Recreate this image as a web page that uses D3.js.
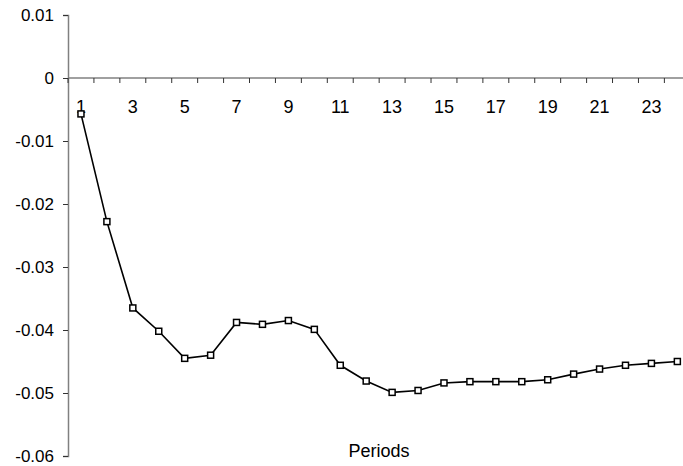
<!DOCTYPE html>
<html>
<head>
<meta charset="utf-8">
<script src="https://cdn.jsdelivr.net/npm/d3@7"></script>
<style>
    body { margin: 0; background: #fff; }
    svg { display: block; }
    text { font-family: "Liberation Sans", Arial, sans-serif; fill: #000; }
</style>
</head>
<body>
<svg id="chart" width="683" height="466"></svg>
<script>
// data
var periods = d3.range(1, 25);
var values = [
    -0.0057, -0.0228, -0.0365, -0.0402, -0.0445, -0.0440,
    -0.0388, -0.0391, -0.0385, -0.0399, -0.0456, -0.0481,
    -0.0499, -0.0496, -0.0484, -0.0482, -0.0482, -0.0482,
    -0.0479, -0.0470, -0.0462, -0.0456, -0.0453, -0.0450
];
var yTicks = [0.01, 0, -0.01, -0.02, -0.03, -0.04, -0.05, -0.06];
var yTickLabels = ["0.01", "0", "-0.01", "-0.02", "-0.03", "-0.04", "-0.05", "-0.06"];
var xLabelPeriods = [1, 3, 5, 7, 9, 11, 13, 15, 17, 19, 21, 23];
var xTitle = "Periods";

var svg = d3.select("#chart"),
    width = 683,
    left = 68,
    step = 25.93;

var x = d3.scaleBand()
    .domain(periods)
    .range([left, left + step * periods.length]);

var y = d3.scaleLinear()
    .domain([-0.06, 0.01])
    .range([456, 15]);

// y axis
var yAxis = svg.append("g")
    .attr("transform", "translate(" + left + ",0)")
    .call(d3.axisLeft(y)
        .tickValues(yTicks)
        .tickSize(5)
        .tickPadding(9)
        .tickFormat(function(d, i) { return yTickLabels[i]; }));
yAxis.select(".domain").attr("stroke", "#808080").attr("stroke-width", 1.5);
yAxis.selectAll(".tick line").attr("stroke", "#333");
yAxis.selectAll(".tick text")
    .attr("font-size", 17)
    .attr("font-family", "Liberation Sans, Arial, sans-serif");

// x axis along zero
var y0 = y(0);
var xAxis = svg.append("g");
xAxis.append("line")
    .attr("x1", left).attr("x2", width)
    .attr("y1", y0).attr("y2", y0)
    .attr("stroke", "#808080")
    .attr("stroke-width", 1.5);

xAxis.selectAll("line.tick")
    .data(periods.concat([periods.length + 1]))
    .enter().append("line")
    .attr("class", "tick")
    .attr("x1", function(d) { return d <= periods.length ? x(d) : x(periods.length) + x.bandwidth(); })
    .attr("x2", function(d) { return d <= periods.length ? x(d) : x(periods.length) + x.bandwidth(); })
    .attr("y1", y0)
    .attr("y2", y0 + 5)
    .attr("stroke", "#333");

xAxis.selectAll("text")
    .data(xLabelPeriods)
    .enter().append("text")
    .attr("x", function(d) { return x(d) + x.bandwidth() / 2; })
    .attr("y", y0 + 35)
    .attr("text-anchor", "middle")
    .attr("font-size", 18)
    .text(function(d) { return d; });

svg.append("text")
    .attr("x", 379)
    .attr("y", 457)
    .attr("text-anchor", "middle")
    .attr("font-size", 18)
    .text(xTitle);

// series
var line = d3.line()
    .x(function(d, i) { return x(periods[i]) + x.bandwidth() / 2; })
    .y(function(d) { return y(d); });

svg.append("path")
    .datum(values)
    .attr("fill", "none")
    .attr("stroke", "#000")
    .attr("stroke-width", 1.6)
    .attr("d", line);

svg.append("g")
    .selectAll("rect")
    .data(values)
    .enter().append("rect")
    .attr("x", function(d, i) { return x(periods[i]) + x.bandwidth() / 2 - 3; })
    .attr("y", function(d) { return y(d) - 3; })
    .attr("width", 6)
    .attr("height", 6)
    .attr("fill", "#fff")
    .attr("stroke", "#000")
    .attr("stroke-width", 1.5);
</script>
</body>
</html>
